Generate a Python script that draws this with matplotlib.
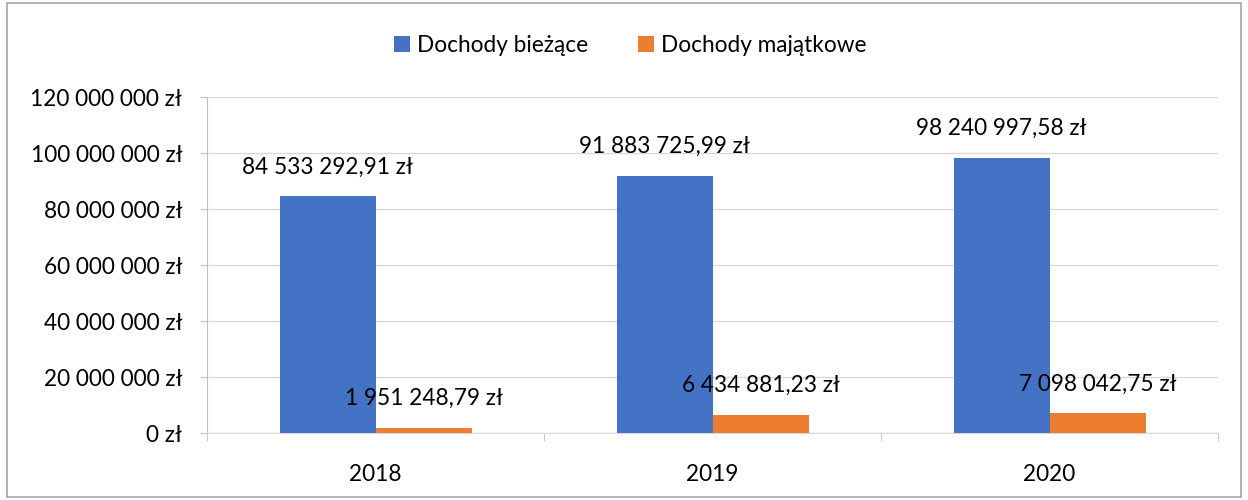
import numpy as np
import matplotlib.pyplot as plt
from matplotlib.patches import Rectangle

years = ['2018', '2019', '2020']
biezace = [84533292.91, 91883725.99, 98240997.58]
majatkowe = [1951248.79, 6434881.23, 7098042.75]
series_names = ['Dochody bieżące', 'Dochody majątkowe']
colors = ['#4472C4', '#ED7D31']

plt.rcParams['font.family'] = ['Lato', 'DejaVu Sans']
FS = 16.3

def zl(v, dec=True):
    if dec:
        s = f"{v:,.2f}".replace(',', ' ').replace('.', ',')
    else:
        s = f"{v:,.0f}".replace(',', ' ')
    return s + ' zł'

fig = plt.figure(figsize=(12.48, 5), dpi=100)
ax = fig.add_axes([0.166, 0.134, 0.81, 0.672])
fig.patches.append(Rectangle((0.006, 0.006), 0.988, 0.988, transform=fig.transFigure,
                             fill=False, edgecolor='#a6a6a6', linewidth=1.2))

x = np.arange(len(years))
w = 0.285
b1 = ax.bar(x - w/2, biezace, w, color=colors[0], label=series_names[0], zorder=3)
b2 = ax.bar(x + w/2, majatkowe, w, color=colors[1], label=series_names[1], zorder=3)

for bars, vals in [(b1, biezace), (b2, majatkowe)]:
    for r, v in zip(bars, vals):
        ax.annotate(zl(v), (r.get_x() + r.get_width()/2, v), xytext=(0, 21),
                    textcoords='offset points', ha='center', va='center', fontsize=FS, zorder=4)

ax.set_xlim(-0.5, 2.5)
ax.set_ylim(0, 120000000)
yt = np.arange(0, 120000001, 20000000)
ax.set_yticks(yt)
ax.set_yticklabels([zl(v, False) for v in yt], fontsize=FS)
ax.set_xticks(x)
ax.set_xticklabels(years, fontsize=FS)
ax.set_xticks([-0.5, 0.5, 1.5, 2.5], minor=True)
ax.tick_params(axis='x', which='major', length=0, pad=22)
ax.tick_params(axis='x', which='minor', length=6, color='#bfbfbf')
ax.tick_params(axis='y', length=5, color='#bfbfbf', pad=13)
ax.grid(axis='y', color='#d9d9d9', linewidth=1, zorder=0)
for s in ['top', 'right']:
    ax.spines[s].set_visible(False)
ax.spines['left'].set_color('#bfbfbf')
ax.spines['bottom'].set_color('#d9d9d9')

fig.legend(loc='center', bbox_to_anchor=(0.505, 0.91), ncol=2, frameon=False, fontsize=FS,
           handlelength=0.7, handleheight=0.7, handletextpad=0.3, columnspacing=2.2)

fig.savefig('out.png', dpi=100)
